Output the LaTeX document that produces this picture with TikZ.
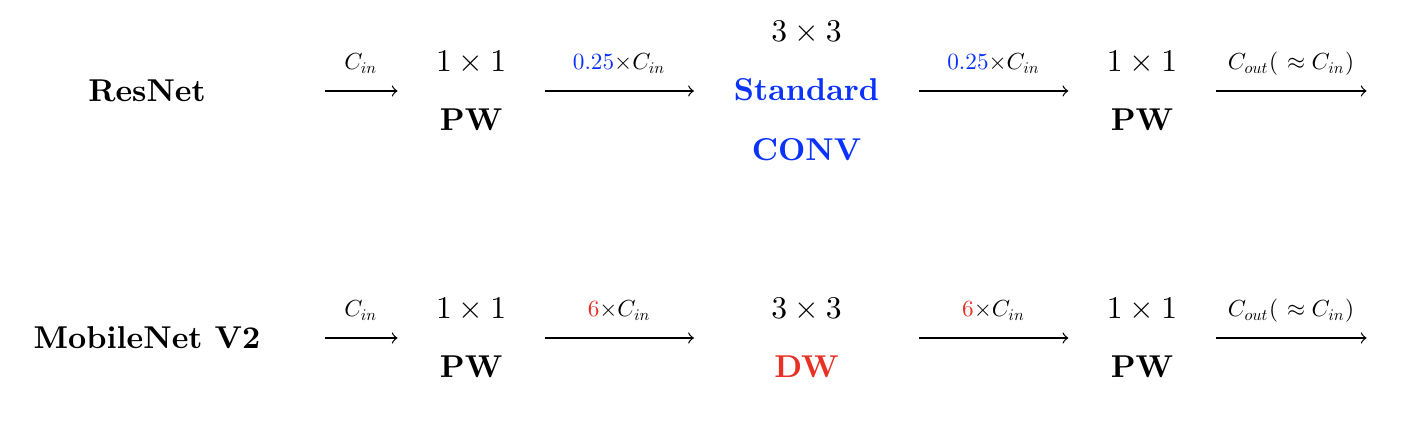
\documentclass[tikz,border=0pt]{standalone}
\usepackage{amsmath,amssymb}
\usetikzlibrary{positioning}
\DeclareFontShape{OT1}{cmr}{m}{n}{<->cmr10}{}
\DeclareFontShape{OML}{cmm}{m}{it}{<->cmmi10}{}
\DeclareFontShape{OMS}{cmsy}{m}{n}{<->cmsy10}{}
\definecolor{resblue}{RGB}{10,50,250}
\definecolor{mbred}{RGB}{232,48,36}

\begin{document}
\begin{tikzpicture}[
    x=0.3165pt, y=-0.3165pt,
    net/.style={inner sep=0pt, minimum width=112pt, font=\bfseries},
    block/.style={inner sep=0pt, minimum width=#1, align=center, execute at begin node={\setlength{\baselineskip}{18.8pt}}},
    arrow/.style={->},
    chan/.style={font=\fontsize{7.35pt}{9pt}\selectfont, above=6.5pt, inner sep=0pt, text depth=0pt},
]
\useasboundingbox (0,0) rectangle (1402,428);

% ResNet bottleneck
\node[net] (res) at (147,91) {ResNet};
\node[block=46.2pt, right=23.1pt of res] (respw1) {$1\times1$\\\textbf{PW}};
\node[block=70.9pt, right=47.2pt of respw1] (resconv) {$3\times3$\\\textcolor{resblue}{\textbf{Standard}}\\\textcolor{resblue}{\textbf{CONV}}};
\node[block=46.2pt, right=47.2pt of resconv] (respw2) {$1\times1$\\\textbf{PW}};
\coordinate[right=47.8pt of respw2] (resout);

\draw[arrow] (res) -- node[chan] {$C_{in}$} (respw1);
\draw[arrow] (respw1) -- node[chan] {$\textcolor{resblue}{0.25}{\times}C_{in}$} (resconv);
\draw[arrow] (resconv) -- node[chan] {$\textcolor{resblue}{0.25}{\times}C_{in}$} (respw2);
\draw[arrow] (respw2) -- node[chan] {$C_{out}(\ \approx C_{in})$} (resout);

% MobileNet V2 inverted residual
\node[net] (mb) at (147,338) {MobileNet V2};
\node[block=46.2pt, right=23.1pt of mb] (mbpw1) {$1\times1$\\\textbf{PW}};
\node[block=70.9pt, right=47.2pt of mbpw1] (mbdw) {$3\times3$\\\textcolor{mbred}{\textbf{DW}}};
\node[block=46.2pt, right=47.2pt of mbdw] (mbpw2) {$1\times1$\\\textbf{PW}};
\coordinate[right=47.8pt of mbpw2] (mbout);

\draw[arrow] (mb) -- node[chan] {$C_{in}$} (mbpw1);
\draw[arrow] (mbpw1) -- node[chan] {$\textcolor{mbred}{6}{\times}C_{in}$} (mbdw);
\draw[arrow] (mbdw) -- node[chan] {$\textcolor{mbred}{6}{\times}C_{in}$} (mbpw2);
\draw[arrow] (mbpw2) -- node[chan] {$C_{out}(\ \approx C_{in})$} (mbout);

\end{tikzpicture}
\end{document}
